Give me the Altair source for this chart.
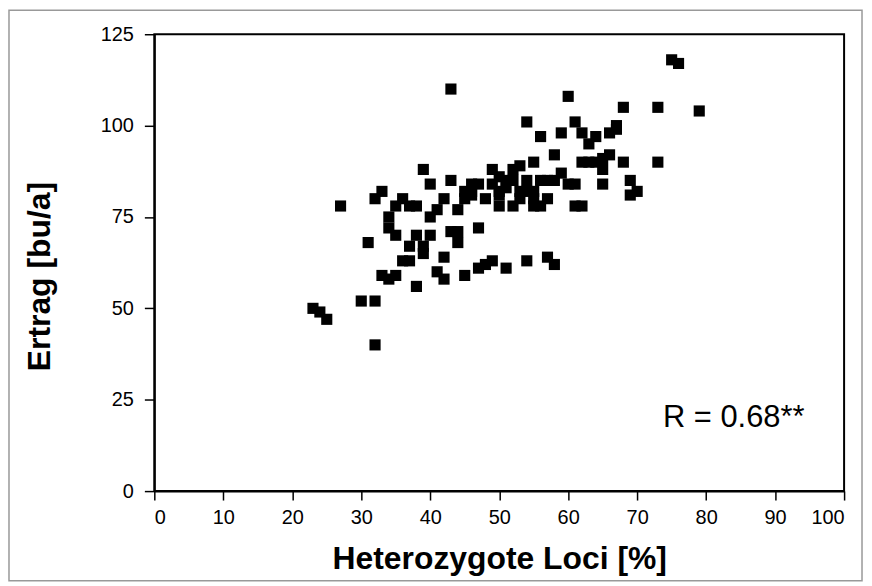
import altair as alt
import pandas as pd

# Heterozygote loci [%] and yield [bu/a]
het_loci = [23, 24, 25, 30, 32, 32,
            27, 31,
            32, 33, 33, 34, 35,
            34, 34, 35, 35,
            36, 36, 37, 37, 37, 38, 38, 38,
            39, 39, 39, 40, 40, 40,
            41, 41, 42, 42, 42,
            43, 43, 43, 44, 44, 44,
            45, 45, 45, 46, 46, 46, 47, 47, 47, 48, 48, 49, 49, 49,
            50, 50, 50, 50, 51, 51, 51, 52, 52, 52, 53, 53, 53,
            54, 54, 54, 54, 55, 55, 55, 55,
            56, 56, 56, 57, 57, 57, 58, 58, 58,
            59, 59, 60, 60, 61, 61, 61, 62, 62, 62, 63, 63, 64, 64,
            65, 65, 65, 66, 66, 67, 67, 68, 68, 69, 69, 70, 73, 73, 75, 76, 79]
ertrag = [50, 49, 47, 52, 52, 40,
          78, 68,
          80, 82, 59, 58, 59,
          75, 72, 78, 70,
          80, 63, 63, 67, 78, 78, 70, 56,
          88, 67, 65, 84, 75, 70,
          77, 60, 80, 64, 58,
          110, 85, 71, 77, 71, 68,
          82, 80, 59, 84, 82, 81, 84, 72, 61, 80, 62, 88, 84, 63,
          86, 82, 81, 78, 85, 83, 61, 88, 85, 78, 89, 82, 80,
          101, 85, 82, 63, 90, 82, 80, 78,
          97, 85, 78, 85, 80, 64, 92, 85, 62,
          98, 87, 108, 84, 101, 84, 78, 98, 90, 78, 95, 90, 97, 90,
          91, 88, 84, 98, 92, 100, 99, 105, 90, 85, 81, 82, 105, 90, 118, 117, 104]

x_ticks = [0, 10, 20, 30, 40, 50, 60, 70, 80, 90, 100]
y_ticks = [0, 25, 50, 75, 100, 125]

annot_text = ["R = 0.68**"]
annot_x = [84]
annot_y = [20]

df = pd.DataFrame({"het": het_loci, "ertrag": ertrag})
ann = pd.DataFrame({"x": annot_x, "y": annot_y, "t": annot_text})

W, H = 693, 459
FONT = "Liberation Sans"

xs = alt.Scale(domain=[0, 100], nice=False, zero=True)
ys = alt.Scale(domain=[0, 125], nice=False, zero=True)

points = alt.Chart(df).mark_point(
    shape="square", filled=True, color="black", size=125, opacity=1
).encode(
    x=alt.X("het:Q", scale=xs,
            axis=alt.Axis(values=x_ticks, title="Heterozygote Loci [%]",
                          titleFontSize=32, titleFontWeight="bold",
                          titlePadding=16, labelFontSize=20,
                          labelPadding=8, tickSize=9)),
    y=alt.Y("ertrag:Q", scale=ys,
            axis=alt.Axis(values=y_ticks, title="Ertrag [bu/a]",
                          titleFontSize=32, titleFontWeight="bold",
                          titleX=-115, titleY=243, titleBaseline="middle",
                          titleAngle=270, titleAlign="center",
                          labelFontSize=20, labelPadding=11, tickSize=10)),
)

text = alt.Chart(ann).mark_text(
    fontSize=31, font=FONT, color="black", align="center", baseline="middle"
).encode(
    x=alt.X("x:Q", scale=xs),
    y=alt.Y("y:Q", scale=ys),
    text="t:N",
)

frame = alt.Chart(ann).mark_rect(
    filled=False, stroke="#999999", strokeWidth=1.5
).encode(
    x=alt.value(-146), x2=alt.value(711),
    y=alt.value(-24), y2=alt.value(549),
)

chart = alt.layer(frame, points, text).properties(
    width=W, height=H,
    autosize=alt.AutoSizeParams(type="none"),
    padding={"left": 147, "top": 25, "right": 20, "bottom": 94},
).configure_view(
    stroke="black", strokeWidth=2
).configure_axis(
    grid=False, domainColor="black", domainWidth=2,
    tickColor="black", tickWidth=1.5,
    labelFont=FONT, titleFont=FONT, labelColor="black", titleColor="black",
)

chart.save("out.html", embed_options={"renderer": "svg", "actions": False})
